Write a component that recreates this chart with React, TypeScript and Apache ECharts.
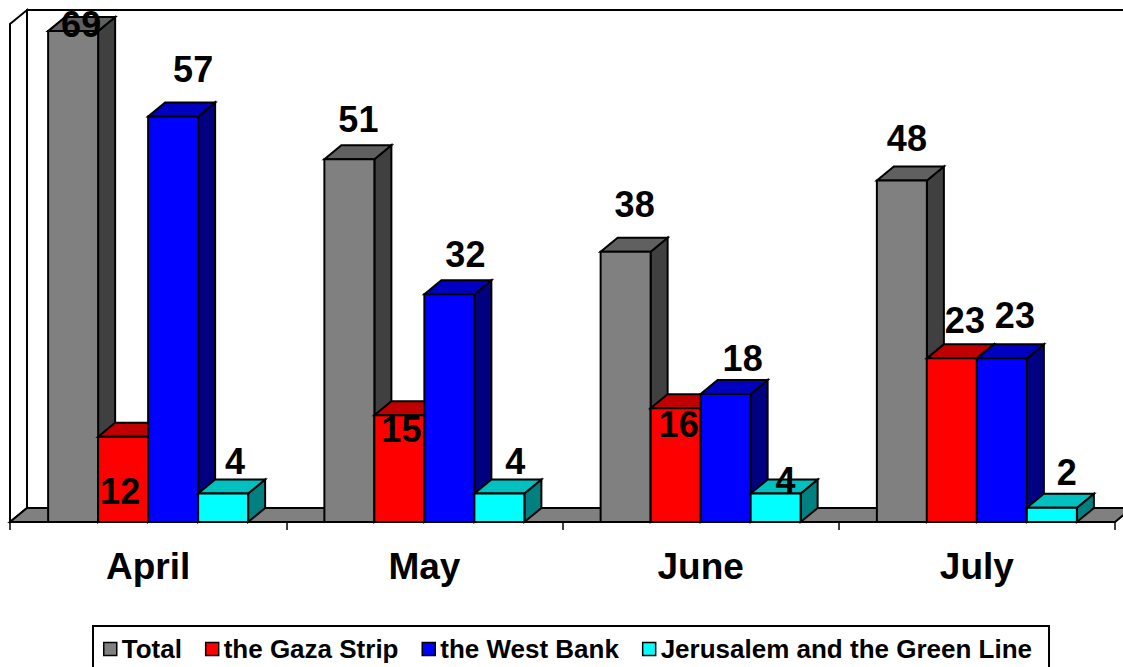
import React, { useEffect, useRef } from "react";
import * as echarts from "echarts";

const categories = ["April", "May", "June", "July"];
const seriesNames = ["Total", "the Gaza Strip", "the West Bank", "Jerusalem and the Green Line"];
const totalValues = [69, 51, 38, 48];
const gazaValues = [12, 15, 16, 23];
const westBankValues = [57, 32, 18, 23];
const jerusalemValues = [4, 4, 4, 2];
const yMax = 70;

// styles
const FONT = "'Liberation Sans', Arial, sans-serif";
const DX = 17;
const DY = 14;
const LW = 2;
const GROUP_RATIO = 200 / 276.25;
const PALETTE = [
  { front: "#808080", top: "#606060", side: "#404040" },
  { front: "#ff0000", top: "#c00000", side: "#800000" },
  { front: "#0000ff", top: "#0000c0", side: "#000080" },
  { front: "#00ffff", top: "#00c0c0", side: "#008080" },
];
// label placement relative to front-top centre of each bar (style only)
const LABEL_OFFSETS = [
  [[8, -7], [9, -40], [9, -47], [5, -42]],
  [[-3, 55], [2, 14], [3, 16], [13, -38]],
  [[20, -47], [16, -40], [17, -35], [13, -43]],
  [[12, -32], [16, -32], [10, -13], [15, -35]],
];

const allValues = [totalValues, gazaValues, westBankValues, jerusalemValues];

function barRenderer(si: number) {
  const c = PALETTE[si];
  return (params: any, api: any) => {
    const ci = api.value(0);
    const v = api.value(1);
    const top = api.coord([ci, v]);
    const base = api.coord([ci, 0]);
    const band = api.size([1, 0])[0];
    const w = (band * GROUP_RATIO) / 4;
    const x = top[0] - 2 * w + si * w;
    const yT = top[1];
    const yB = base[1];
    const off = LABEL_OFFSETS[si][ci];
    const stroke = { stroke: "#000", lineWidth: LW, lineJoin: "miter" };
    return {
      type: "group",
      children: [
        {
          type: "polygon",
          shape: { points: [[x + w, yT], [x + w + DX, yT - DY], [x + w + DX, yB - DY], [x + w, yB]] },
          style: { fill: c.side, ...stroke },
        },
        {
          type: "polygon",
          shape: { points: [[x, yT], [x + w, yT], [x + w + DX, yT - DY], [x + DX, yT - DY]] },
          style: { fill: c.top, ...stroke },
        },
        {
          type: "rect",
          shape: { x, y: yT, width: w, height: yB - yT },
          style: { fill: c.front, ...stroke },
        },
        {
          type: "text",
          x: x + w / 2 + off[0],
          y: yT + off[1],
          z2: 50,
          style: {
            text: String(v),
            fill: "#000",
            fontSize: 36,
            fontWeight: "bold",
            fontFamily: FONT,
            align: "center",
            verticalAlign: "middle",
          },
        },
      ],
    };
  };
}

function backgroundRenderer(params: any) {
  const cs = params.coordSys;
  const x0 = cs.x;
  const y0 = cs.y;
  const x1 = cs.x + cs.width;
  const y1 = cs.y + cs.height;
  const stroke = { stroke: "#000", lineWidth: LW };
  return {
    type: "group",
    children: [
      {
        type: "rect",
        shape: { x: x0 + DX, y: y0 - DY, width: cs.width, height: cs.height },
        style: { fill: "#fff", ...stroke },
      },
      {
        type: "polygon",
        shape: { points: [[x0, y0], [x0 + DX, y0 - DY], [x0 + DX, y1 - DY], [x0, y1]] },
        style: { fill: "#fff", ...stroke },
      },
      {
        type: "polygon",
        shape: { points: [[x0, y1], [x1, y1], [x1 + DX, y1 - DY], [x0 + DX, y1 - DY]] },
        style: { fill: "#808080", ...stroke },
      },
    ],
  };
}

export default function App() {
  const ref = useRef<HTMLDivElement>(null);
  useEffect(() => {
    if (!ref.current) return;
    const chart = echarts.init(ref.current, null, { renderer: "svg" });
    const series: any[] = [
      {
        type: "custom",
        name: "__bg",
        renderItem: backgroundRenderer,
        data: [[0, 0]],
        clip: false,
        silent: true,
        z: 1,
      },
    ];
    allValues.forEach((vals, si) => {
      series.push({
        type: "custom",
        name: seriesNames[si],
        renderItem: barRenderer(si),
        data: vals.map((v, i) => [i, v]),
        itemStyle: { color: PALETTE[si].front },
        clip: false,
        z: 2,
      });
    });
    chart.setOption({
      animation: false,
      backgroundColor: "#fff",
      grid: { left: 10, top: 24, width: 1105, height: 498, containLabel: false },
      xAxis: {
        type: "category",
        data: categories,
        boundaryGap: true,
        axisLine: { show: false },
        axisTick: { show: true, length: 8, lineStyle: { color: "#000", width: 1.5 } },
        axisLabel: {
          margin: 26,
          color: "#000",
          fontSize: 37,
          fontWeight: "bold",
          fontFamily: FONT,
        },
        splitLine: { show: false },
      },
      yAxis: { type: "value", min: 0, max: yMax, show: false },
      legend: {
        data: seriesNames,
        left: 93,
        top: 626,
        padding: [10, 17, 20, 10],
        borderColor: "#000",
        borderWidth: 2,
        itemGap: 23,
        itemWidth: 13,
        itemHeight: 13,
        icon: "rect",
        itemStyle: { borderColor: "#000", borderWidth: 1.5 },
        textStyle: { color: "#000", fontSize: 26, fontWeight: "bold", fontFamily: FONT },
        selectedMode: false,
      },
      series,
    });
    return () => chart.dispose();
  }, []);
  return (
    <div
      ref={ref}
      style={{ position: "fixed", left: 0, top: 0, width: 1123, height: 667, background: "#fff" }}
    />
  );
}
